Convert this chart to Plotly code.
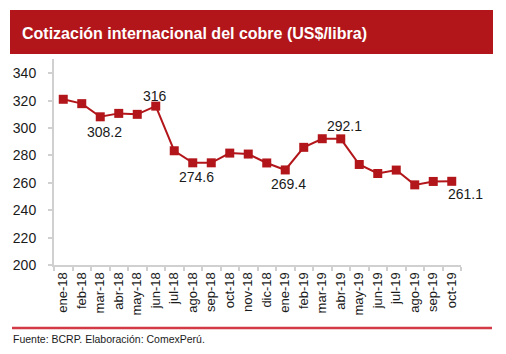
import plotly.graph_objects as go

months = ["ene-18", "feb-18", "mar-18", "abr-18", "may-18", "jun-18", "jul-18",
          "ago-18", "sep-18", "oct-18", "nov-18", "dic-18", "ene-19", "feb-19",
          "mar-19", "abr-19", "may-19", "jun-19", "jul-19", "ago-19", "sep-19", "oct-19"]
prices = [321.0, 317.8, 308.2, 310.7, 310.0, 316.0, 283.4, 274.6, 274.6, 281.7,
          281.0, 274.5, 269.4, 285.9, 292.2, 292.1, 273.4, 266.8, 269.3, 258.5,
          261.0, 261.1]
labeled = ["mar-18", "jun-18", "ago-18", "ene-19", "abr-19", "oct-19"]
ytick_vals = [200, 220, 240, 260, 280, 300, 320, 340]

title_text = "Cotización internacional del cobre (US$/libra)"
source_text = "Fuente: BCRP. Elaboración: ComexPerú."

RED = "#B2161A"
AXIS = "#D0D0D0"
FONT = "Liberation Sans, Arial, sans-serif"

# label placement (xshift, yshift) in px
label_shift = {
    "mar-18": (4, -15),
    "jun-18": (-1, 10),
    "ago-18": (4, -14),
    "ene-19": (3, -14),
    "abr-19": (4, 13),
    "oct-19": (14, -13),
}

W, H = 506, 354
L, R, T, B = 54, 45, 59, 89

def px_to_paper_x(px):
    return (px - L) / (W - L - R)

def px_to_paper_y(py):
    return 1 - (py - T) / (H - T - B)

fig = go.Figure()
fig.add_trace(go.Scatter(
    x=months, y=prices, mode="lines+markers",
    line=dict(color=RED, width=2),
    marker=dict(symbol="square", size=9, color=RED),
    hoverinfo="x+y", cliponaxis=False,
))

for m in labeled:
    i = months.index(m)
    dx, dy = label_shift[m]
    fig.add_annotation(x=m, y=prices[i], xref="x", yref="y",
                       text=f"{prices[i]:g}", showarrow=False,
                       xshift=dx, yshift=dy,
                       font=dict(family=FONT, size=14, color="#1a1a1a"))

fig.add_shape(type="rect", xref="paper", yref="paper",
              x0=px_to_paper_x(10), x1=px_to_paper_x(493),
              y0=px_to_paper_y(54), y1=px_to_paper_y(10),
              fillcolor=RED, line=dict(width=0), layer="below")
fig.add_annotation(xref="paper", yref="paper",
                   x=px_to_paper_x(20), y=px_to_paper_y(33),
                   xanchor="left", yanchor="middle", showarrow=False,
                   text=f"<b>{title_text}</b>",
                   font=dict(family=FONT, size=16, color="white"))
fig.add_shape(type="line", xref="paper", yref="paper",
              x0=px_to_paper_x(12), x1=px_to_paper_x(492),
              y0=px_to_paper_y(328), y1=px_to_paper_y(328),
              line=dict(color="#D23A46", width=2.5))
fig.add_annotation(xref="paper", yref="paper",
                   x=px_to_paper_x(11), y=px_to_paper_y(339),
                   xanchor="left", yanchor="middle", showarrow=False,
                   text=source_text,
                   font=dict(family=FONT, size=10.5, color="#1a1a1a"))

fig.update_layout(
    width=W, height=H,
    margin=dict(l=L, r=R, t=T, b=B, pad=0, autoexpand=False),
    paper_bgcolor="white", plot_bgcolor="white",
    showlegend=False,
    font=dict(family=FONT, color="#1a1a1a"),
)
fig.update_xaxes(
    type="category", categoryorder="array", categoryarray=months,
    range=[-0.5, len(months) - 0.5],
    tickangle=-90, tickson="boundaries", ticks="outside", ticklen=4,
    tickcolor=AXIS, tickwidth=1.5, automargin=False,
    showline=True, linecolor=AXIS, linewidth=2,
    showgrid=False, zeroline=False,
    tickfont=dict(family=FONT, size=13, color="#1a1a1a"),
)
fig.update_yaxes(
    range=[200, 350.4], tickvals=ytick_vals, automargin=False,
    ticks="outside", ticklen=4, tickcolor=AXIS, tickwidth=1.5,
    showline=True, linecolor=AXIS, linewidth=2,
    showgrid=False, zeroline=False, ticklabelstandoff=9,
    tickfont=dict(family=FONT, size=14, color="#1a1a1a"),
)

fig.write_html("out.html")
